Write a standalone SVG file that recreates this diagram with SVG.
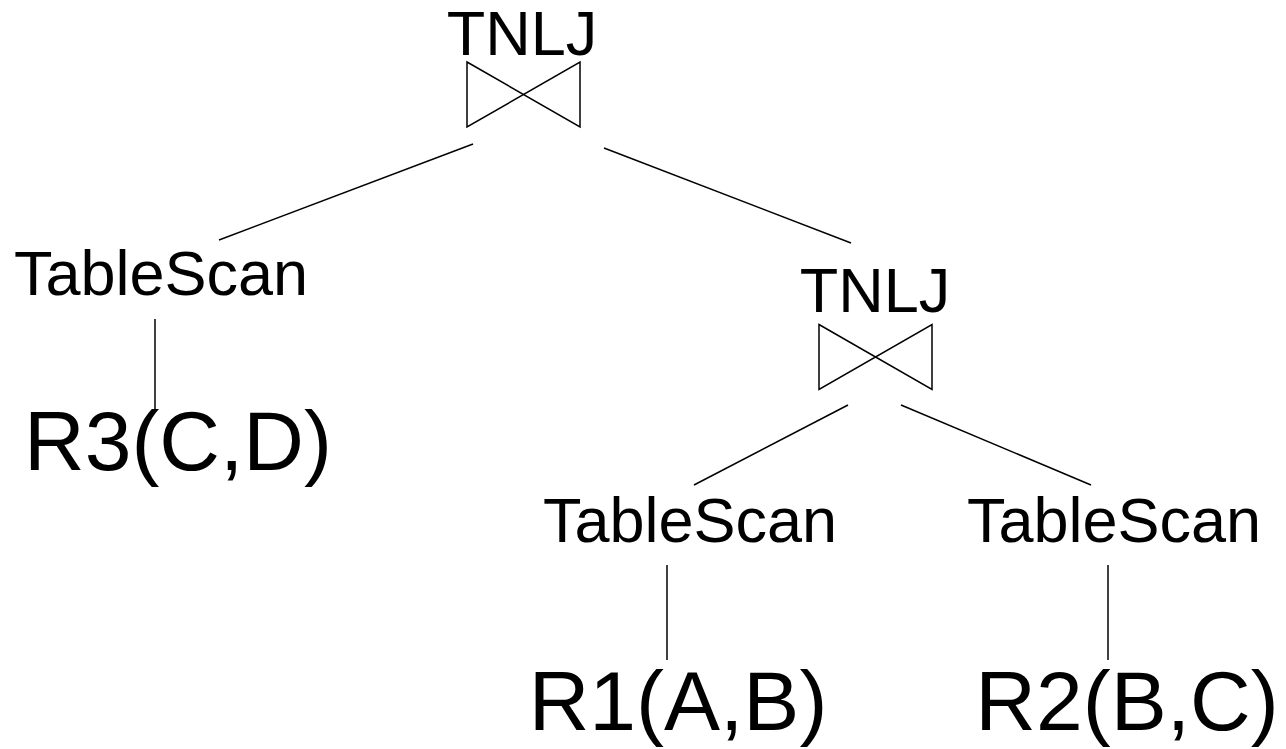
<svg xmlns="http://www.w3.org/2000/svg" width="1286" height="749" viewBox="0 0 1286 749">
  <style>
    text { font-family: "Liberation Sans", Arial, sans-serif; fill: #000; text-anchor: middle; }
    .op { font-size: 63px; }
    .rel { font-size: 84px; }
    .edge, .bowtie { stroke: #000; stroke-width: 1.5; fill: none; }
  </style>
  <defs>
    <!-- join symbol: two vertical sides with crossing diagonals, centred on 0,0 -->
    <path id="join" class="bowtie" d="M-56.5,-32.5 L56.5,32.5 L56.5,-32.5 L-56.5,32.5 Z"/>
  </defs>
  <rect width="1286" height="749" fill="#fff"/>

  <g id="connectors">
    <line class="edge" x1="473" y1="144" x2="219" y2="240"/>
    <line class="edge" x1="604" y1="148" x2="851" y2="243"/>
    <line class="edge" x1="155" y1="319" x2="155" y2="412"/>
    <line class="edge" x1="848" y1="405" x2="694" y2="485"/>
    <line class="edge" x1="901" y1="405" x2="1091" y2="485"/>
    <line class="edge" x1="667" y1="565" x2="667" y2="660"/>
    <line class="edge" x1="1108" y1="565" x2="1108" y2="660"/>
  </g>

  <g id="tnlj-top">
    <text class="op" x="522" y="55">TNLJ</text>
    <use href="#join" x="523.5" y="94.5"/>
  </g>

  <g id="tablescan-r3">
    <text class="op" x="161" y="295">TableScan</text>
  </g>

  <g id="r3">
    <text class="rel" x="178" y="470">R3(C,D)</text>
  </g>

  <g id="tnlj-inner">
    <text class="op" x="875" y="312">TNLJ</text>
    <use href="#join" x="875.5" y="357"/>
  </g>

  <g id="tablescan-r1">
    <text class="op" x="690" y="542">TableScan</text>
  </g>

  <g id="tablescan-r2">
    <text class="op" x="1114" y="542">TableScan</text>
  </g>

  <g id="r1">
    <text class="rel" x="678" y="730">R1(A,B)</text>
  </g>

  <g id="r2">
    <text class="rel" x="1127" y="730">R2(B,C)</text>
  </g>
</svg>
